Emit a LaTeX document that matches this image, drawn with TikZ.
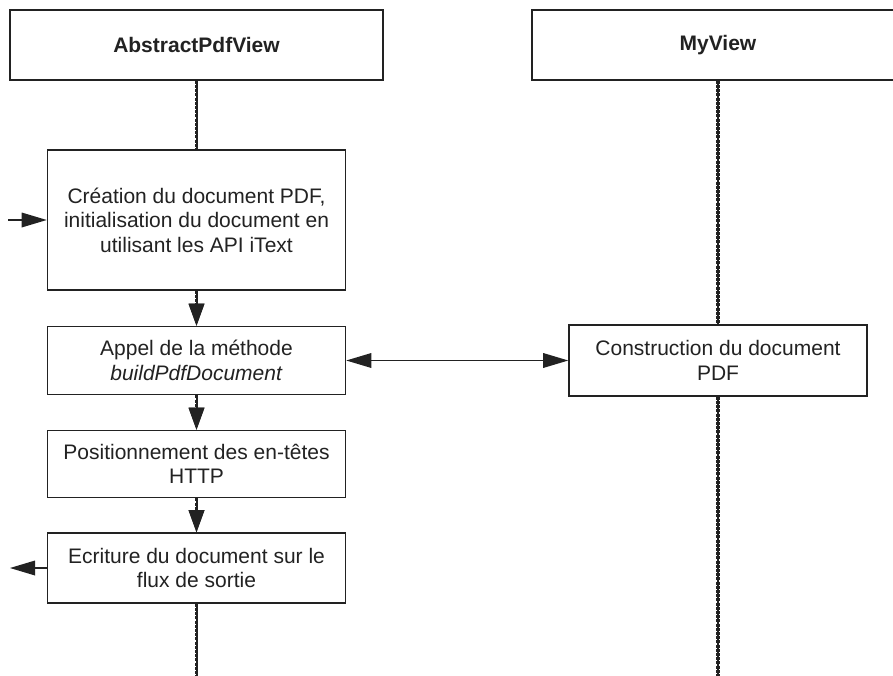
\documentclass[tikz,border=0pt]{standalone}
\usepackage{fontspec}
\setmainfont{Liberation Sans}
\usetikzlibrary{arrows.meta}
\definecolor{ink}{HTML}{222222}
\begin{document}
\begin{tikzpicture}[x=1pt,y=-1pt,
  box/.style={draw=ink, line width=1.6pt, fill=white, inner sep=0pt, align=center,
    font=\fontsize{21}{24.5}\selectfont, text=ink},
  life/.style={line width=3.2pt, dash pattern=on 3pt off 1.2pt, draw=ink,
    preaction={draw=ink, line width=2pt, solid}},
  msg/.style={line width=1.5pt, draw=ink},
  tipd/.style={-{Triangle[length=22pt,width=16pt,line width=0pt]}},
  tiph/.style={-{Triangle[length=25pt,width=15pt,line width=0pt]}},
  tiphh/.style={{Triangle[length=25pt,width=15pt,line width=0pt]}-{Triangle[length=25pt,width=15pt,line width=0pt]}}
]
\useasboundingbox (0,0) rectangle (893,675);
\begin{scope}
\clip (0,0) rectangle (893,675);
\node[box, minimum width=373pt, minimum height=70pt, font=\fontsize{21}{24.5}\selectfont\bfseries] (A) at (196.5,45) {AbstractPdfView};
\node[box, minimum width=372pt, minimum height=70pt, font=\fontsize{21}{24.5}\selectfont\bfseries] (B) at (718,45) {MyView};
\end{scope}

\node[box, minimum width=298pt, minimum height=140pt] (C) at (196.5,220)
  {Création du document PDF,\\initialisation du document en\\utilisant les API iText};
\node[box, minimum width=298pt, minimum height=68pt] (Ap) at (196.5,360.5)
  {Appel de la méthode\\\textit{buildPdfDocument}};
\node[box, minimum width=298pt, minimum height=67pt] (P) at (196.5,464)
  {Positionnement des en-têtes\\HTTP};
\node[box, minimum width=298pt, minimum height=70pt] (E) at (196.5,568)
  {Ecriture du document sur le\\flux de sortie};
\node[box, minimum width=298pt, minimum height=71pt] (Co) at (718,360.5)
  {Construction du document\\PDF};

\coordinate (aend) at (196.5,677);
\coordinate (bend) at (718,677);
\coordinate (in) at (8,220);
\coordinate (out) at (10,568);

% lifelines
\draw[life] (A.south) -- (C.north);
\draw[life, tipd] (C.south) -- (Ap.north);
\draw[life, tipd] (Ap.south) -- (P.north);
\draw[life, tipd] (P.south) -- (E.north);
\draw[life] (E.south) -- (aend);
\draw[life] (B.south) -- (Co.north);
\draw[life] (Co.south) -- (bend);

% messages
\draw[msg, tiph] (in) -- (C.west);
\draw[msg, tiphh] (Ap.east) -- (Co.west);
\draw[msg, tiph] (E.west) -- (out);
\end{tikzpicture}
\end{document}
